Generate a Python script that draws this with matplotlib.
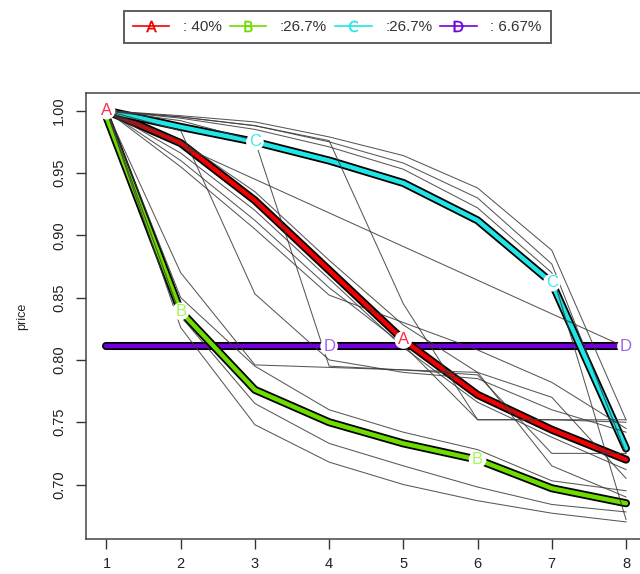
"""Cluster price trajectories: thin member paths + thick cluster centres."""
import matplotlib
matplotlib.use("Agg")
import matplotlib.pyplot as plt
from matplotlib.lines import Line2D

plt.rcParams["font.family"] = ["Liberation Sans", "DejaVu Sans"]

PERIODS = [1, 2, 3, 4, 5, 6, 7, 8]

# cluster centres
CENTER_A = [1.000, 0.974, 0.928, 0.872, 0.816, 0.772, 0.744, 0.720]
CENTER_B = [0.995, 0.839, 0.776, 0.750, 0.733, 0.720, 0.697, 0.685]
CENTER_C = [1.000, 0.987, 0.975, 0.960, 0.942, 0.912, 0.862, 0.729]
CENTER_D = [0.811, 0.811, 0.811, 0.811, 0.811, 0.811, 0.811, 0.811]

LETTERS = ["A", "B", "C", "D"]
SHARES = [": 40%", ":26.7%", ":26.7%", ": 6.67%"]
LINE_COLORS = ["#f00000", "#6fdc00", "#1fe6e6", "#7000dc"]
LABEL_COLORS = ["#ff2a4a", "#a8f55c", "#3ce8e8", "#a062f0"]

# individual series (thin grey)
GRAY_LINES = [
    [1.000, 0.996, 0.991, 0.979, 0.964, 0.938, 0.888, 0.752],
    [1.000, 0.995, 0.988, 0.975, 0.958, 0.930, 0.877, 0.725],
    [1.000, 0.994, 0.985, 0.971, 0.953, 0.922, 0.870, 0.672],
    [1.000, 0.992, 0.976, 0.795, 0.792, 0.788, 0.725, 0.725],
    [1.000, 0.995, 0.988, 0.976, 0.845, 0.752, 0.752, 0.752],
    [1.000, 0.984, 0.853, 0.800, 0.790, 0.785, 0.760, 0.742],
    [1.000, 0.870, 0.796, 0.794, 0.792, 0.790, 0.770, 0.705],
    [1.000, 0.972, 0.945, 0.918, 0.891, 0.864, 0.837, 0.810],
    [1.000, 0.966, 0.920, 0.865, 0.810, 0.766, 0.738, 0.712],
    [1.000, 0.960, 0.912, 0.858, 0.812, 0.752, 0.752, 0.750],
    [1.000, 0.955, 0.905, 0.852, 0.830, 0.808, 0.782, 0.745],
    [1.000, 0.976, 0.935, 0.880, 0.828, 0.790, 0.715, 0.690],
    [1.000, 0.850, 0.795, 0.760, 0.742, 0.728, 0.703, 0.695],
    [1.000, 0.835, 0.765, 0.733, 0.715, 0.698, 0.684, 0.678],
    [1.000, 0.826, 0.748, 0.718, 0.700, 0.687, 0.677, 0.670],
]

fig = plt.figure(figsize=(6.4, 5.74), dpi=100)
fig.patch.set_facecolor("white")
ax = fig.add_axes([0.1339, 0.0610, 0.8767, 0.7765])

centers = [CENTER_A, CENTER_B, CENTER_C, CENTER_D]

# thick centre lines: black outline + colour, D first so others sit on top
for k in [3, 0, 1, 2]:
    ax.plot(PERIODS, centers[k], color="black", lw=5.8,
            solid_capstyle="round", solid_joinstyle="round", zorder=2)
    ax.plot(PERIODS, centers[k], color=LINE_COLORS[k], lw=3.2,
            solid_capstyle="round", solid_joinstyle="round", zorder=2)

for path in GRAY_LINES:
    ax.plot(PERIODS, path, color="#3a3a3a", lw=0.75, alpha=0.85, zorder=3)

# letters every 4 points, staggered by cluster
for k, vals in enumerate(centers):
    for i in range(k, len(PERIODS), 4):
        ax.text(PERIODS[i], vals[i], LETTERS[k], ha="center", va="center",
                fontsize=12, color=LABEL_COLORS[k], zorder=5,
                bbox=dict(boxstyle="circle,pad=0.08", fc="white", ec="none"))

ax.set_xlim(0.72, 8.28)
ax.set_ylim(0.6563, 1.0140)
ax.set_xticks(PERIODS)
ax.set_yticks([0.70, 0.75, 0.80, 0.85, 0.90, 0.95, 1.00])
ax.set_yticklabels(["0.70", "0.75", "0.80", "0.85", "0.90", "0.95", "1.00"],
                   rotation=90, va="center")
ax.tick_params(axis="both", length=7, width=1.0, color="#333333",
               labelsize=10.5, labelcolor="#222222")
ax.tick_params(axis="x", pad=6)
ax.tick_params(axis="y", pad=7)
for sp in ax.spines.values():
    sp.set_color("#444444")
    sp.set_linewidth(1.1)
ax.set_ylabel("price", fontsize=9, color="#222222", labelpad=17)

handles = [Line2D([0], [0], color=LINE_COLORS[k], lw=1.2,
                  marker=r"$\mathsf{%s}$" % LETTERS[k], markersize=8,
                  markeredgewidth=0.3)
           for k in range(4)]
leg = fig.legend(handles, SHARES, loc="center", ncol=4,
                 bbox_to_anchor=(0.527, 0.953), frameon=True, fancybox=False,
                 fontsize=11, handlelength=2.4, handletextpad=0.9,
                 columnspacing=0.5, borderpad=0.6, borderaxespad=0)
leg.get_frame().set_edgecolor("#333333")
leg.get_frame().set_linewidth(1.4)
for t in leg.get_texts():
    t.set_color("#333333")

fig.savefig("out.png", dpi=100, facecolor="white")
